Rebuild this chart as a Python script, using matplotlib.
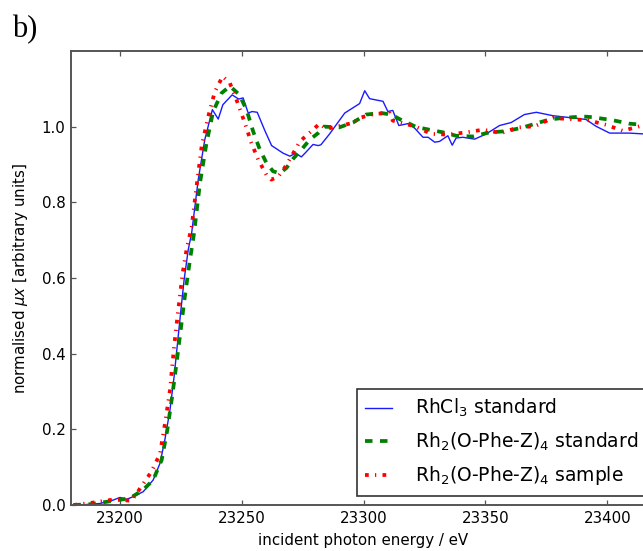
import matplotlib
matplotlib.use("Agg")
import matplotlib.pyplot as plt
import numpy as np

# RhCl3 reference spectrum
rhcl3_energy = [23181, 23183.7, 23191.9, 23197.3, 23200.1, 23202.8, 23205.5, 23209.6, 23213.7,
                23216.5, 23218.5, 23220.6, 23222.3, 23223.7, 23225.1, 23226.4, 23228.1, 23229.5,
                23232.2, 23234.9, 23238.0, 23240.4, 23242.3, 23246.1, 23248.8, 23250.6, 23252.7,
                23254.3, 23256.4, 23259.5, 23262.3, 23267.0, 23269.8, 23272.2, 23274.5, 23276.3,
                23279.3, 23281.4, 23282.5, 23286, 23292.3, 23298.4, 23300.5, 23302.5, 23308,
                23310, 23312, 23314.5, 23318.2, 23321, 23324.4, 23326.5, 23329.2, 23331.2,
                23334.6, 23336.4, 23338, 23340.8, 23345.6, 23350.4, 23355.8, 23360.6, 23366,
                23370.9, 23377.7, 23385.9, 23391.3, 23395.4, 23401, 23409, 23414.4, 23420]
rhcl3_mu = [0.0, 0.0, 0.004, 0.013, 0.020, 0.015, 0.022, 0.035, 0.066,
            0.110, 0.172, 0.251, 0.339, 0.428, 0.516, 0.595, 0.675, 0.719,
            0.860, 0.966, 1.045, 1.020, 1.058, 1.084, 1.073, 1.076, 1.036,
            1.040, 1.038, 0.990, 0.950, 0.930, 0.922, 0.930, 0.920, 0.932,
            0.953, 0.950, 0.952, 0.980, 1.036, 1.061, 1.095, 1.074, 1.067,
            1.040, 1.043, 1.003, 1.008, 0.996, 0.972, 0.972, 0.959, 0.961,
            0.976, 0.951, 0.970, 0.972, 0.967, 0.981, 1.003, 1.011, 1.032,
            1.038, 1.029, 1.023, 1.019, 1.001, 0.983, 0.983, 0.981, 0.980]

# Rh2(O-Phe-Z)4 reference spectrum
std_energy = [23181, 23187.8, 23197.3, 23204.2, 23209.6, 23213.7, 23217.2, 23219.5, 23221.5,
              23223.3, 23225, 23226.7, 23228.8, 23230.5, 23232.9, 23235.6, 23238.3, 23241.8,
              23245.2, 23249, 23252, 23254.7, 23257.5, 23260.2, 23262.9, 23265.7, 23268.4,
              23271.1, 23274.5, 23278, 23281.4, 23284, 23290, 23295.7, 23301, 23307.3,
              23311.4, 23314.8, 23321.7, 23327, 23332.6, 23338, 23344.9, 23351.7, 23358.6,
              23365.4, 23376.3, 23381.8, 23390, 23394, 23402.3, 23409, 23414.4, 23420]
std_mu = [0.0, 0.002, 0.011, 0.018, 0.040, 0.066, 0.119, 0.198, 0.287,
          0.375, 0.463, 0.551, 0.648, 0.719, 0.851, 0.957, 1.040, 1.089,
          1.107, 1.085, 1.045, 0.988, 0.939, 0.904, 0.882, 0.877, 0.891,
          0.915, 0.939, 0.966, 0.983, 1.000, 0.998, 1.011, 1.032, 1.036,
          1.032, 1.020, 0.999, 0.992, 0.985, 0.976, 0.974, 0.985, 0.988,
          0.998, 1.019, 1.023, 1.027, 1.025, 1.017, 1.008, 1.005, 1.003]

# Rh2(O-Phe-Z)4 sample spectrum
smp_energy = [23181, 23189.8, 23198, 23204.8, 23209, 23213, 23216.5, 23218.9, 23220.6,
              23222.3, 23224, 23225.8, 23227.4, 23229.5, 23231.5, 23233.6, 23236.3, 23239,
              23242.2, 23245.2, 23247.9, 23251.3, 23254, 23256.8, 23260.2, 23262.2, 23265,
              23267.5, 23270.4, 23273.9, 23278.6, 23282, 23284.8, 23295.7, 23298.2, 23304.6,
              23310.7, 23312, 23321, 23327.8, 23334.6, 23342.2, 23349, 23356.5, 23363.3,
              23370.2, 23377.7, 23384.5, 23392, 23399.5, 23406.4, 23413.2, 23420]
smp_mu = [0.0, 0.007, 0.015, 0.011, 0.050, 0.088, 0.135, 0.229, 0.304,
          0.419, 0.516, 0.613, 0.675, 0.736, 0.842, 0.948, 1.027, 1.092,
          1.133, 1.115, 1.071, 1.010, 0.957, 0.913, 0.872, 0.860, 0.868,
          0.890, 0.921, 0.961, 0.988, 1.008, 0.994, 1.010, 1.023, 1.034,
          1.036, 1.016, 1.001, 0.981, 0.979, 0.985, 0.992, 0.983, 0.998,
          1.001, 1.023, 1.020, 1.017, 1.005, 0.989, 1.001, 1.000]

labels = ["RhCl$_3$ standard",
          "Rh$_2$(O-Phe-Z)$_4$ standard",
          "Rh$_2$(O-Phe-Z)$_4$ sample"]
x_ticks = [23200, 23250, 23300, 23350, 23400]
y_ticks = [0.0, 0.2, 0.4, 0.6, 0.8, 1.0]

plt.rcParams["lines.scale_dashes"] = False
plt.rcParams["font.family"] = ["DejaVu Sans"]

frame_col = "#555555"

fig = plt.figure(figsize=(6.43, 5.51), dpi=100)
ax = fig.add_axes([71 / 643, 1 - 505 / 551, 585 / 643, 454 / 551])

ax.plot(rhcl3_energy, rhcl3_mu, color="#1a1aff", lw=1.0, label=labels[0])
ax.plot(std_energy, std_mu, color="#008000", lw=2.7, dashes=(5.4, 5.4),
        dash_capstyle="butt", label=labels[1])
ax.plot(smp_energy, smp_mu, color="#ff0000", lw=2.7, dashes=(2.7, 4.5, 0.9, 4.5),
        dash_capstyle="butt", label=labels[2])

ax.set_xlim(23180, 23420)
ax.set_ylim(0.0, 1.2)
ax.set_xticks(x_ticks)
ax.set_yticks(y_ticks)
ax.set_yticklabels([f"{v:.1f}" for v in y_ticks])
ax.tick_params(direction="in", length=3.6, width=0.9, top=True, right=True,
               labelsize=10.8, pad=4, color=frame_col)
for s in ax.spines.values():
    s.set_color(frame_col)
    s.set_linewidth(1.4)

ax.set_xlabel("incident photon energy / eV", fontsize=10.8, labelpad=5)
ax.set_ylabel(r"normalised $\mu x$ [arbitrary units]", fontsize=10.8, labelpad=8)

leg = ax.legend(loc="lower right", fontsize=13.5, handlelength=1.45, handletextpad=1.2,
                labelspacing=0.6, borderpad=0.45, fancybox=False, framealpha=1,
                edgecolor="#333333", borderaxespad=0.5)
leg.get_frame().set_linewidth(1.2)

fig.text(12 / 643, 1 - 37 / 551, "b)", family="Liberation Serif", fontsize=22,
         ha="left", va="baseline")

fig.savefig("out.png", dpi=100)
